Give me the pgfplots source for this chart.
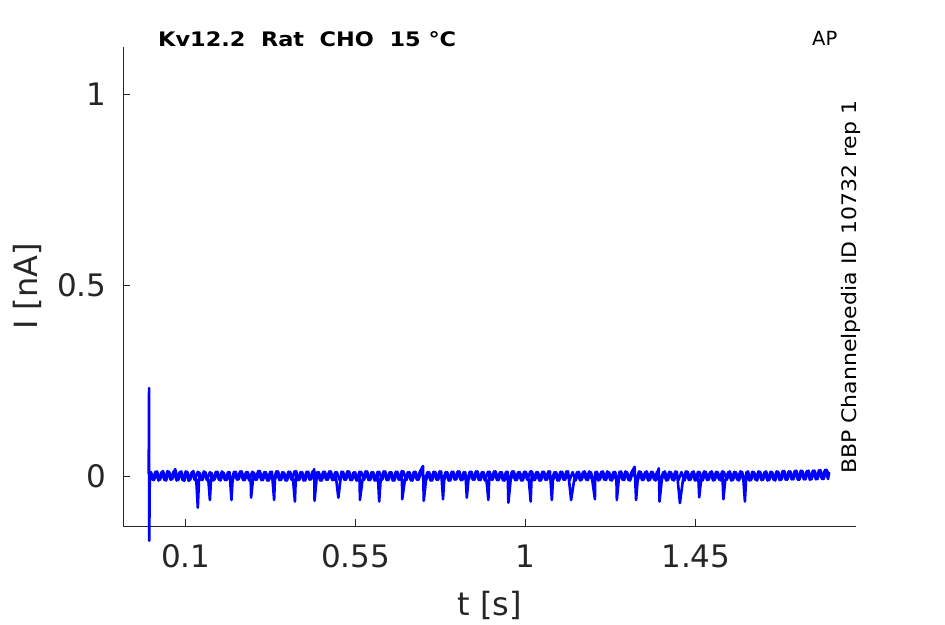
\documentclass[border=0pt]{standalone}
\usepackage{pgfplots}
\pgfplotsset{compat=1.18}
\usepackage{fontspec}
\setmainfont{DejaVu Sans}
\definecolor{axgray}{RGB}{38,38,38}
\begin{document}
\begin{tikzpicture}
\begin{axis}[
  at={(0,0)}, anchor=south west,
  scale only axis, width=733pt, height=479pt,
  xmin=-0.066, xmax=1.874, ymin=-0.131, ymax=1.123,
  axis x line*=bottom, axis y line*=left,
  axis line style={-, axgray, line width=0.9pt},
  every tick/.style={axgray, line width=0.9pt},
  tick align=inside, major tick length=7pt,
  xtick={0.1,0.55,1,1.45}, xticklabels={0.1,0.55,1,1.45},
  ytick={0,0.5,1}, yticklabels={0,0.5,1},
  tick label style={font=\fontsize{31}{31}\selectfont, text=axgray},
  xticklabel style={yshift=-15pt},
  yticklabel style={xshift=-13pt},
  xlabel={t [s]}, ylabel={I [nA]},
  label style={font=\fontsize{32}{32}\selectfont, text=axgray},
  xlabel style={yshift=-16pt},
  ylabel style={yshift=9pt},
  clip=false,
]
\addplot[color=blue, line width=2.6pt, line join=round] coordinates {
(0.004,0.012) (0.012,-0.010) (0.020,0.011) (0.028,-0.012) (0.036,0.010) (0.044,-0.011) (0.052,0.013) (0.060,-0.010) (0.068,0.012) (0.076,-0.012)
(0.084,0.010) (0.092,-0.011) (0.100,0.012) (0.108,-0.013) (0.116,0.010) (0.124,-0.011) (0.132,0.011) (0.140,-0.010) (0.148,0.012) (0.156,-0.011)
(0.164,0.010) (0.172,-0.012) (0.180,0.011) (0.188,-0.010) (0.196,0.012) (0.204,-0.011) (0.212,0.010) (0.220,-0.012) (0.228,0.011) (0.236,-0.010)
(0.244,0.012) (0.252,-0.011) (0.260,0.010) (0.268,-0.012) (0.276,0.011) (0.284,-0.010) (0.292,0.013) (0.300,-0.011) (0.308,0.010) (0.316,-0.012)
(0.324,0.011) (0.332,-0.010) (0.340,0.012) (0.348,-0.011) (0.356,0.010) (0.364,-0.012) (0.372,0.011) (0.380,-0.010) (0.388,0.012) (0.396,-0.011)
(0.404,0.010) (0.412,-0.012) (0.420,0.011) (0.428,-0.010) (0.436,0.012) (0.444,-0.011) (0.452,0.010) (0.460,-0.012) (0.468,0.011) (0.476,-0.010)
(0.484,0.012) (0.492,-0.011) (0.500,0.010) (0.508,-0.012) (0.516,0.011) (0.524,-0.010) (0.532,0.012) (0.540,-0.011) (0.548,0.010) (0.556,-0.012)
(0.564,0.011) (0.572,-0.010) (0.580,0.012) (0.588,-0.011) (0.596,0.010) (0.604,-0.012) (0.612,0.011) (0.620,-0.010) (0.628,0.012) (0.636,-0.011)
(0.644,0.010) (0.652,-0.012) (0.660,0.011) (0.668,-0.010) (0.676,0.012) (0.684,-0.011) (0.692,0.010) (0.700,-0.012) (0.708,0.011) (0.716,-0.010)
(0.724,0.012) (0.732,-0.011) (0.740,0.010) (0.748,-0.012) (0.756,0.011) (0.764,-0.010) (0.772,0.012) (0.780,-0.011) (0.788,0.010) (0.796,-0.012)
(0.804,0.011) (0.812,-0.010) (0.820,0.012) (0.828,-0.011) (0.836,0.010) (0.844,-0.012) (0.852,0.011) (0.860,-0.010) (0.868,0.012) (0.876,-0.011)
(0.884,0.010) (0.892,-0.012) (0.900,0.011) (0.908,-0.010) (0.916,0.012) (0.924,-0.011) (0.932,0.010) (0.940,-0.012) (0.948,0.011) (0.956,-0.010)
(0.964,0.012) (0.972,-0.011) (0.980,0.010) (0.988,-0.012) (0.996,0.011) (1.004,-0.010) (1.012,0.012) (1.020,-0.011) (1.028,0.010) (1.036,-0.012)
(1.044,0.011) (1.052,-0.010) (1.060,0.012) (1.068,-0.011) (1.076,0.010) (1.084,-0.012) (1.092,0.011) (1.100,-0.010) (1.108,0.012) (1.116,-0.011)
(1.124,0.010) (1.132,-0.012) (1.140,0.011) (1.148,-0.010) (1.156,0.012) (1.164,-0.011) (1.172,0.010) (1.180,-0.012) (1.188,0.011) (1.196,-0.010)
(1.204,0.012) (1.212,-0.011) (1.220,0.010) (1.228,-0.012) (1.236,0.011) (1.244,-0.010) (1.252,0.012) (1.260,-0.011) (1.268,0.010) (1.276,-0.012)
(1.284,0.011) (1.292,-0.010) (1.300,0.012) (1.308,-0.011) (1.316,0.010) (1.324,-0.012) (1.332,0.011) (1.340,-0.010) (1.348,0.012) (1.356,-0.011)
(1.364,0.010) (1.372,-0.012) (1.380,0.011) (1.388,-0.010) (1.396,0.012) (1.404,-0.011) (1.412,0.010) (1.420,-0.012) (1.428,0.011) (1.436,-0.010)
(1.444,0.012) (1.452,-0.011) (1.460,0.010) (1.468,-0.012) (1.476,0.011) (1.484,-0.010) (1.492,0.012) (1.500,-0.011) (1.508,0.010) (1.516,-0.012)
(1.524,0.011) (1.532,-0.010) (1.540,0.012) (1.548,-0.011) (1.556,0.010) (1.564,-0.012) (1.572,0.011) (1.580,-0.010) (1.588,0.012) (1.596,-0.011)
(1.604,0.010) (1.612,-0.012) (1.620,0.011) (1.628,-0.010) (1.636,0.012) (1.644,-0.011) (1.652,0.010) (1.660,-0.012) (1.668,0.011) (1.676,-0.010)
(1.684,0.013) (1.692,-0.010) (1.700,0.012) (1.708,-0.009) (1.716,0.014) (1.724,-0.010) (1.732,0.013) (1.740,-0.009) (1.748,0.014) (1.756,-0.009)
(1.764,0.014) (1.772,-0.008) (1.780,0.015) (1.788,-0.008) (1.796,0.016) (1.802,0.004)
};
\addplot[color=blue, line width=2.6pt, line join=round] coordinates {
(0.002,0.005) (0.003,0.23) (0.0035,-0.17) (0.005,0.010)
(0.008,0.010) (0.016,-0.011) (0.024,0.012) (0.032,-0.010) (0.040,0.013) (0.048,-0.012) (0.056,0.011) (0.064,-0.009) (0.072,0.018) (0.080,-0.011)
(0.088,0.012) (0.096,-0.013) (0.104,0.011) (0.112,-0.010) (0.120,0.013) (0.128,-0.012) (0.132,-0.083) (0.136,0.009) (0.144,-0.011) (0.152,0.010) (0.160,-0.012)
(0.164,-0.063) (0.168,0.008) (0.176,-0.010) (0.184,0.011) (0.192,-0.012) (0.200,0.009) (0.208,-0.011) (0.216,0.010) (0.221,-0.063) (0.224,-0.012)
(0.232,0.011) (0.240,-0.009) (0.248,0.012) (0.256,-0.011) (0.264,0.010) (0.272,-0.012) (0.273,-0.057) (0.280,0.009) (0.288,-0.010) (0.296,0.013)
(0.304,-0.011) (0.312,0.010) (0.320,-0.012) (0.328,0.011) (0.334,-0.063) (0.336,-0.010) (0.344,0.012) (0.352,-0.011) (0.360,0.009) (0.368,-0.012)
(0.376,0.011) (0.384,-0.010) (0.389,-0.067) (0.392,0.013) (0.400,-0.011) (0.408,0.010) (0.416,-0.012) (0.424,0.011) (0.432,-0.009) (0.440,0.018)
(0.441,-0.065) (0.448,0.010) (0.456,-0.012) (0.464,0.011) (0.472,-0.010) (0.480,0.012) (0.488,-0.011) (0.496,0.010) (0.504,-0.057) (0.512,0.011)
(0.520,-0.010) (0.528,0.012) (0.536,-0.011) (0.544,0.009) (0.552,-0.012) (0.560,0.011) (0.561,-0.063) (0.568,-0.010) (0.576,0.012) (0.584,-0.011)
(0.592,0.010) (0.600,-0.012) (0.608,0.011) (0.612,-0.067) (0.616,-0.009) (0.624,0.012) (0.632,-0.011) (0.640,0.010) (0.648,-0.012) (0.656,0.011)
(0.664,-0.010) (0.672,0.013) (0.673,-0.061) (0.680,-0.011) (0.688,0.010) (0.696,-0.012) (0.704,0.011) (0.712,-0.010) (0.720,0.012) (0.728,0.026)
(0.730,-0.065) (0.736,-0.011) (0.744,0.010) (0.752,-0.012) (0.760,0.011) (0.768,-0.010) (0.776,0.012) (0.781,-0.061) (0.784,-0.011) (0.792,0.010)
(0.800,-0.012) (0.808,0.011) (0.816,-0.009) (0.824,0.012) (0.832,-0.011) (0.840,0.010) (0.844,-0.057) (0.848,-0.012) (0.856,0.011) (0.864,-0.010)
(0.872,0.012) (0.880,-0.011) (0.888,0.010) (0.896,-0.012) (0.901,-0.063) (0.904,0.011) (0.912,-0.010) (0.920,0.012) (0.928,-0.011) (0.936,0.010)
(0.944,-0.012) (0.952,0.011) (0.954,-0.070) (0.960,-0.010) (0.968,0.012) (0.976,-0.011) (0.984,0.010) (0.992,-0.012) (1.000,0.011) (1.008,-0.010)
(1.013,-0.067) (1.016,0.012) (1.024,-0.011) (1.032,0.010) (1.040,-0.012) (1.048,0.011) (1.056,-0.010) (1.064,0.012) (1.069,-0.063) (1.072,-0.011)
(1.080,0.010) (1.088,-0.012) (1.096,0.011) (1.104,-0.010) (1.112,0.012) (1.120,-0.063) (1.128,-0.011) (1.136,0.010) (1.144,-0.012) (1.152,0.011)
(1.160,-0.010) (1.168,0.012) (1.176,-0.011) (1.183,-0.061) (1.184,0.010) (1.192,-0.012) (1.200,0.011) (1.208,-0.010) (1.216,0.012) (1.224,-0.011)
(1.232,0.010) (1.240,-0.012) (1.241,-0.063) (1.248,0.011) (1.256,-0.010) (1.264,0.012) (1.272,-0.011) (1.280,0.010) (1.288,0.024) (1.292,-0.063)
(1.296,-0.012) (1.304,0.011) (1.312,-0.010) (1.320,0.012) (1.328,-0.011) (1.336,0.010) (1.344,-0.012) (1.352,0.020) (1.354,-0.067) (1.360,-0.010)
(1.368,0.012) (1.376,-0.011) (1.384,0.010) (1.392,-0.012) (1.400,0.011) (1.408,-0.071) (1.416,-0.010) (1.424,0.012) (1.432,-0.011) (1.440,0.010)
(1.448,-0.012) (1.456,0.011) (1.459,-0.056) (1.464,-0.010) (1.472,0.012) (1.480,-0.011) (1.488,0.010) (1.496,-0.012) (1.504,0.011) (1.512,-0.010)
(1.520,0.012) (1.523,-0.061) (1.528,-0.011) (1.536,0.010) (1.544,-0.012) (1.552,0.011) (1.560,-0.010) (1.568,0.012) (1.576,-0.011) (1.580,-0.067)
(1.584,0.010) (1.592,-0.012) (1.600,0.011) (1.608,-0.010) (1.616,0.012) (1.624,-0.011) (1.632,0.010) (1.640,-0.012) (1.648,0.011) (1.656,-0.010)
(1.664,0.012) (1.672,-0.011) (1.680,0.013) (1.688,-0.010) (1.696,0.012) (1.704,-0.009) (1.712,0.013) (1.720,-0.010) (1.728,0.014) (1.736,-0.009)
(1.744,0.013) (1.752,-0.010) (1.760,0.014) (1.768,-0.009) (1.776,0.015) (1.784,-0.008) (1.792,0.016) (1.800,-0.008) (1.803,0.010)
};
\end{axis}
\node[anchor=base west, inner sep=0pt] at (35pt,479pt) {\scalebox{1.12}[1]{\bfseries\fontsize{20}{20}\selectfont Kv12.2\ \ Rat\ \ CHO\ \ 15 °C}};
\node[anchor=base west, font=\fontsize{19.5}{19.5}\selectfont, inner sep=0pt] at (689pt,480pt) {AP};
\node[anchor=base west, rotate=90, inner sep=0pt] at (733pt,52pt) {\scalebox{1.1}[1]{\fontsize{20}{20}\selectfont BBP Channelpedia ID 10732 rep 1}};
\pgfresetboundingbox
\useasboundingbox (-123pt,-98pt) rectangle (822pt,526pt);
\end{tikzpicture}
\end{document}
